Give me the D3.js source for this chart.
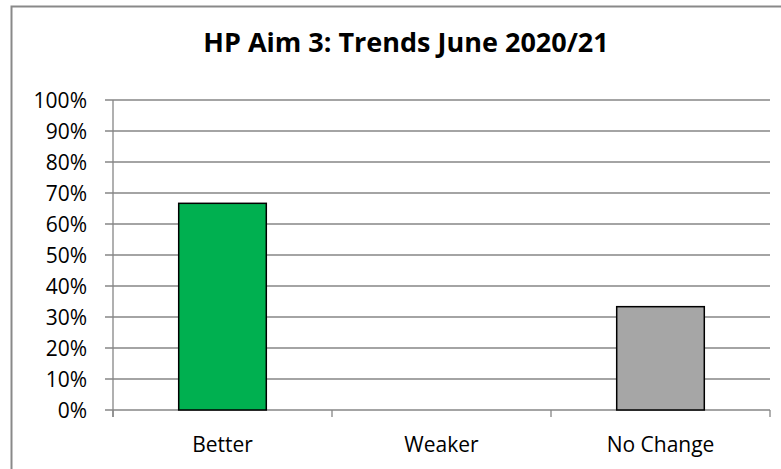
<!DOCTYPE html>
<html>
<head>
<meta charset="utf-8">
<script src="https://cdn.jsdelivr.net/npm/d3@7"></script>
<style>
  body { margin: 0; background: #fff; overflow: hidden; }
  text { font-family: "Open Sans", "Noto Sans", sans-serif; fill: #000; }
</style>
</head>
<body>
<div id="chart-area"></div>
<script>
// chart data
const categories = ["Better", "Weaker", "No Change"];
const values = [0.6667, 0, 0.3333];
const barColors = ["#00B050", "#A6A6A6", "#A6A6A6"];
const yTicks = [0, 0.1, 0.2, 0.3, 0.4, 0.5, 0.6, 0.7, 0.8, 0.9, 1];
const title = "HP Aim 3: Trends June 2020/21";

const W = 781, H = 469;
const margin = { left: 113, right: 11, top: 100, bottom: 59 };

const svg = d3.select("#chart-area").append("svg")
    .attr("width", W)
    .attr("height", H)
    .style("display", "block");

// outer chart border (right and bottom edges fall outside the picture)
svg.append("rect")
    .attr("x", 11.5).attr("y", 6.5)
    .attr("width", 800).attr("height", 500)
    .attr("fill", "none")
    .attr("stroke", "#898989")
    .attr("stroke-width", 2);

svg.append("text")
    .attr("x", 406).attr("y", 52)
    .attr("text-anchor", "middle")
    .style("font-size", "27px")
    .style("font-weight", "bold")
    .text(title);

const x = d3.scaleBand()
    .domain(categories)
    .range([margin.left, W - margin.right])
    .paddingInner(0.6)
    .paddingOuter(0.3);

const y = d3.scaleLinear()
    .domain([0, 1])
    .range([H - margin.bottom, margin.top]);

// gridlines
svg.append("g")
    .selectAll("line")
    .data(yTicks)
    .enter().append("line")
    .attr("x1", margin.left - 8)
    .attr("x2", W - margin.right)
    .attr("y1", d => y(d))
    .attr("y2", d => y(d))
    .attr("stroke", "#868686")
    .attr("stroke-width", 1.3);

// y labels
svg.append("g")
    .selectAll("text")
    .data(yTicks)
    .enter().append("text")
    .attr("x", margin.left - 26)
    .attr("y", d => y(d))
    .attr("dy", "0.36em")
    .attr("text-anchor", "end")
    .style("font-size", "21px")
    .text(d3.format(".0%"));

// y axis line
svg.append("line")
    .attr("x1", margin.left).attr("x2", margin.left)
    .attr("y1", y(1)).attr("y2", y(0) + 7)
    .attr("stroke", "#868686")
    .attr("stroke-width", 1.3);

// category separators (tick marks below the x axis)
const step = (W - margin.right - margin.left) / categories.length;
svg.append("g")
    .selectAll("line")
    .data(d3.range(categories.length + 1))
    .enter().append("line")
    .attr("x1", i => margin.left + i * step)
    .attr("x2", i => margin.left + i * step)
    .attr("y1", y(0))
    .attr("y2", y(0) + 7)
    .attr("stroke", "#868686")
    .attr("stroke-width", 1.3);

// bars
svg.selectAll("rect.bar")
    .data(values)
    .enter().append("rect")
    .attr("class", "bar")
    .attr("x", (d, i) => x(categories[i]))
    .attr("y", d => y(d))
    .attr("width", x.bandwidth())
    .attr("height", d => y(0) - y(d))
    .attr("fill", (d, i) => barColors[i])
    .attr("stroke", "#000")
    .attr("stroke-width", d => d > 0 ? 1.5 : 0);

// category labels
svg.append("g")
    .selectAll("text")
    .data(categories)
    .enter().append("text")
    .attr("x", d => x(d) + x.bandwidth() / 2)
    .attr("y", y(0) + 42)
    .attr("text-anchor", "middle")
    .style("font-size", "21px")
    .text(d => d);
</script>
</body>
</html>
